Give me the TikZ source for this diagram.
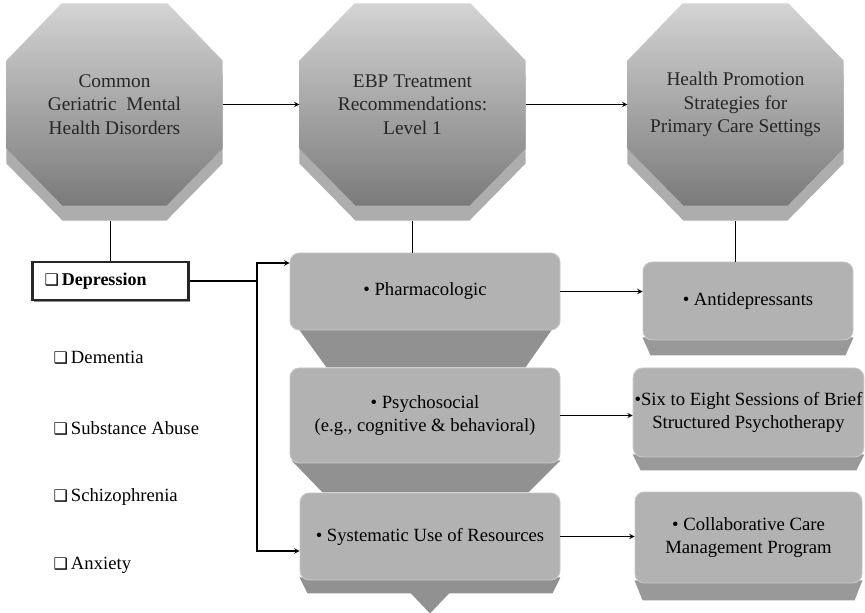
\documentclass[tikz,border=0pt]{standalone}
\usepackage{fontspec}
\setmainfont{Liberation Serif}
\newfontfamily\symfont{DejaVu Sans}
\usetikzlibrary{shadows,backgrounds,calc}
\newcommand{\chk}{{\symfont\fontsize{12}{14}\selectfont ❑}\,}
% octagon face with its bevel, drawn round a named node
\newcommand{\octshape}[1]{%
    \fill[octbevel] ($(#1.north west)+(55,15)$) -- ($(#1.north east)+(-55,15)$) -- ($(#1.north east)+(0,72)$)
        -- ($(#1.south east)+(0,-42)$) -- ($(#1.south east)+(-56,15)$) -- ($(#1.south west)+(56,15)$)
        -- ($(#1.south west)+(0,-42)$) -- ($(#1.north west)+(0,72)$) -- cycle;
    \shade[octface] ($(#1.north west)+(55,0)$) -- ($(#1.north east)+(-55,0)$) -- ($(#1.north east)+(0,57)$)
        -- ($(#1.south east)+(0,-57)$) -- ($(#1.south east)+(-56,0)$) -- ($(#1.south west)+(56,0)$)
        -- ($(#1.south west)+(0,-57)$) -- ($(#1.north west)+(0,57)$) -- cycle;}

\begin{document}
\begin{tikzpicture}[x=0.75pt,y=-0.75pt,>=stealth,line width=0.8pt,
    octagon/.style={rectangle,minimum width=161.25pt,minimum height=150.75pt,
        align=center,text=black!85,font=\fontsize{14.5}{17.6}\selectfont},
    octface/.style={top color=black!17,bottom color=black!52},
    octbevel/.style={fill=black!32},
    depbox/.style={draw=black!85,line width=1.6pt,fill=white,text width=99pt,inner xsep=9pt,
        minimum height=28.5pt,align=left,font=\fontsize{13.5}{15}\selectfont\bfseries,
        drop shadow={shadow xshift=1.2pt,shadow yshift=-1.2pt,fill=black!45,opacity=1}},
    item/.style={anchor=west,inner sep=0pt,font=\fontsize{14}{15}\selectfont},
    midbox/.style={rectangle,rounded corners=7pt,fill=black!30,draw=black!22,line width=0.7pt,
        minimum width=202.5pt,align=center,font=\fontsize{14}{17.6}\selectfont},
    rbox/.style={rectangle,rounded corners=7pt,fill=black!30,draw=black!22,line width=0.7pt,
        inner sep=1pt,align=center,font=\fontsize{14}{17.6}\selectfont},
    midbevel/.style={fill=black!43},
    rbevel/.style={fill=black!40}]
\useasboundingbox (0,0) rectangle (865,613);

% top row
\node[octagon] (dis) at (114.5,104.5) {Common\\Geriatric\ \ Mental\\Health Disorders};
\node[octagon,minimum width=168.75pt] (ebp) at (412.5,104.5) {EBP Treatment\\Recommendations:\\Level 1};
\node[octagon] (hps) at (735.5,104.5) {Health Promotion\\Strategies for\\Primary Care Settings};

% disorders
\node[depbox] (dep) at (110.5,281) {\chk Depression};
\node[item] (dem) at (53,358) {\chk Dementia};
\node[item] (sub) at (53,428) {\chk Substance Abuse};
\node[item] (sch) at (53,497) {\chk Schizophrenia};
\node[item] (anx) at (53,565) {\chk Anxiety};

% treatment
\node[midbox,minimum height=57.75pt] (ph) at (425,291.5) {\textbullet\ Pharmacologic};
\node[midbox,minimum height=71.25pt] (ps) at (425,415.5) {\textbullet\ Psychosocial\\(e.g., cognitive \& behavioral)};
\node[midbox,minimum width=195pt,minimum height=65.25pt] (sy) at (430,536.5) {\textbullet\ Systematic Use of Resources};

% strategies
\node[rbox,minimum width=157.5pt,minimum height=58.5pt] (ad) at (748,301) {\textbullet\ Antidepressants};
\node[rbox,minimum width=170.25pt,minimum height=66.75pt] (six) at (748.5,412.5) {\textbullet Six to Eight Sessions of Brief\\Structured Psychotherapy};
\node[rbox,minimum width=170.25pt,minimum height=68.25pt] (ccm) at (748.5,537.5) {\textbullet\ Collaborative Care\\Management Program};

\begin{scope}[on background layer]
    \octshape{dis}
    \octshape{ebp}
    \octshape{hps}
    \fill[midbevel] ($(ph.south west)+(8,-3)$) -- ($(ph.south east)+(-7,-3)$) -- ($(ph.south east)+(-35,37)$) -- ($(ph.south west)+(37,37)$) -- cycle;
    \fill[midbevel] ($(ps.south west)+(2,-3)$) -- ($(ps.south east)+(0,-3)$) -- ($(ps.south east)+(-32,29)$) -- ($(ps.south west)+(33,29)$) -- cycle;
    \fill[midbevel] ($(sy.south west)+(0,-3)$) -- ($(sy.south east)+(0,-3)$) -- ($(sy.south east)+(-8,13)$) -- ($(sy.south west)+(8,13)$) -- cycle;
    \fill[midbevel] ($(sy.south)+(-20,12)$) -- ($(sy.south)+(20,12)$) -- ($(sy.south)+(0,33)$) -- cycle;
    \fill[rbevel] ($(ad.south west)+(0,-3)$) -- ($(ad.south east)+(0,-3)$) -- ($(ad.south east)+(-8,15)$) -- ($(ad.south west)+(8,15)$) -- cycle;
    \fill[rbevel] ($(six.south west)+(0,-3)$) -- ($(six.south east)+(0,-3)$) -- ($(six.south east)+(-8,13)$) -- ($(six.south west)+(8,13)$) -- cycle;
    \fill[rbevel] ($(ccm.south west)+(0,-3)$) -- ($(ccm.south east)+(0,-3)$) -- ($(ccm.south east)+(-8,17)$) -- ($(ccm.south west)+(8,17)$) -- cycle;
\end{scope}

\coordinate (brtop) at (257,263);
\coordinate (brbot) at (257,551);

\path[->]
    (dis) edge (ebp)
    (ebp) edge (hps)
    (ph.east) edge (ph.east -| ad.west)
    (ps.east) edge (ps.east -| six.west)
    (sy.east) edge (sy.east -| ccm.west)
    ;
\draw (dep.north) -- ([yshift=-11.25pt]dis.south -| dep.north);
\draw (ebp.south |- ph.north) -- ([yshift=-11.25pt]ebp.south);
\draw (hps.south |- ad.north) -- ([yshift=-11.25pt]hps.south);
\draw (dep.east) -- (dep.east -| brtop);
\draw[<->] (brtop -| ph.west) -- (brtop) -- (brbot) -- (brbot -| sy.west);
\end{tikzpicture}
\end{document}
